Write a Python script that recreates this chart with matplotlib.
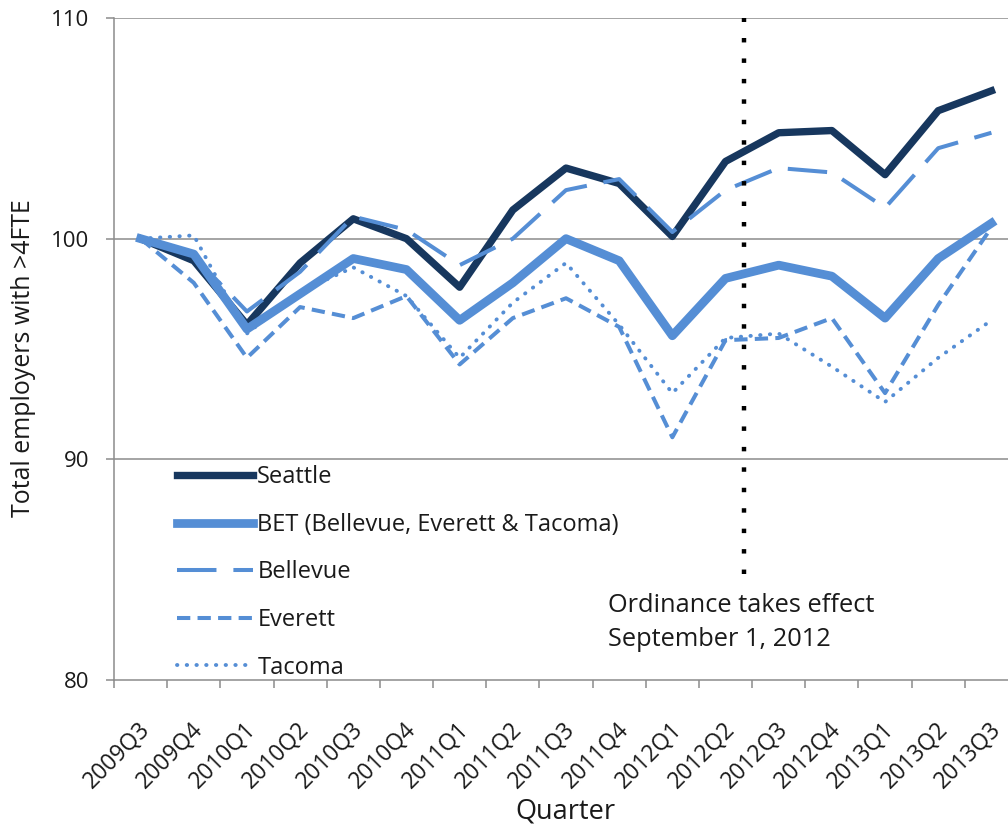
import matplotlib
matplotlib.use("Agg")
import matplotlib.pyplot as plt
import matplotlib.transforms as mtransforms
import numpy as np

quarters = ["2009Q3", "2009Q4", "2010Q1", "2010Q2", "2010Q3", "2010Q4",
            "2011Q1", "2011Q2", "2011Q3", "2011Q4", "2012Q1", "2012Q2",
            "2012Q3", "2012Q4", "2013Q1", "2013Q2", "2013Q3"]
seattle = [100, 99.0, 96.1, 98.9, 100.9, 100.0, 97.8, 101.3, 103.2, 102.5,
           100.1, 103.5, 104.8, 104.9, 102.9, 105.8, 106.7]
bet = [100, 99.3, 95.9, 97.5, 99.1, 98.6, 96.3, 98.0, 100.0, 99.0,
       95.6, 98.2, 98.8, 98.3, 96.4, 99.1, 100.7]
bellevue = [100, 99.2, 96.7, 98.5, 101.0, 100.4, 98.8, 100.0, 102.2, 102.7,
            100.3, 102.2, 103.2, 103.0, 101.4, 104.1, 104.8]
everett = [100, 98.0, 94.6, 96.9, 96.4, 97.4, 94.3, 96.4, 97.3, 96.0,
           91.0, 95.4, 95.5, 96.4, 93.0, 97.0, 100.5]
tacoma = [100, 100.15, 95.7, 97.6, 98.7, 97.4, 94.6, 97.1, 98.9, 96.1,
          93.0, 95.5, 95.7, 94.2, 92.6, 94.6, 96.3]
ordinance_pos = 11.35  # Sept 1, 2012 sits between 2012Q2 and 2012Q3

C_DARK = "#17375E"
C_LIGHT = "#558ED5"
C_GRID = "#8C8C8C"
C_TEXT = "#1A1A1A"
FONT = "Open Sans"

fig = plt.figure(figsize=(10.08, 8.24), dpi=100)
ax = fig.add_axes([114 / 1008, 144 / 824, 904 / 1008, 662 / 824])

x = np.arange(len(quarters))
ax.plot(x, seattle, color=C_DARK, lw=5.3, label="Seattle")
ax.plot(x, bet, color=C_LIGHT, lw=6.3, label="BET (Bellevue, Everett & Tacoma)")
ax.plot(x, bellevue, color=C_LIGHT, lw=2.9, dashes=(9.8, 4.2), label="Bellevue")
ax.plot(x, everett, color=C_LIGHT, lw=2.9, dashes=(3.3, 1.8), label="Everett")
ax.plot(x, tacoma, color=C_LIGHT, lw=2.8, dashes=(0.1, 2.4),
        dash_capstyle="round", label="Tacoma")

# ordinance marker
ax.plot([ordinance_pos, ordinance_pos], [84.8, 110], color="black", lw=3.2,
        dashes=(1.0, 3.6), zorder=5)
ax.text(8.79, 82.6, "Ordinance takes effect\nSeptember 1, 2012", fontsize=18.3,
        family=FONT, color=C_TEXT, va="center", ha="left", linespacing=1.45)

ax.set_xlim(-0.5, 16.5)
ax.set_ylim(80, 110)
ax.set_yticks([80, 90, 100, 110])
for v in [90, 100, 110]:
    ax.axhline(v, color=C_GRID, lw=1.1, zorder=0)

ax.set_xticks(x)
ax.set_xticks(np.arange(-0.5, 16.6, 1), minor=True)
ax.tick_params(axis="x", which="major", length=0, pad=33)
ax.tick_params(axis="x", which="minor", length=5.5, color=C_GRID, width=1.1)
ax.tick_params(axis="y", length=5.8, color=C_GRID, width=1.1, labelsize=16,
               pad=12, labelcolor=C_TEXT)
ax.set_xticklabels(quarters, rotation=45, ha="right", va="center",
                   rotation_mode="anchor", fontsize=16.5, family=FONT, color=C_TEXT)
shift = mtransforms.ScaledTranslation(0.06, 0, fig.dpi_scale_trans)
for lab in ax.get_xticklabels():
    lab.set_transform(lab.get_transform() + shift)
for lab in ax.get_yticklabels():
    lab.set_family(FONT)

for s in ["top", "right"]:
    ax.spines[s].set_visible(False)
for s in ["left", "bottom"]:
    ax.spines[s].set_color(C_GRID)
    ax.spines[s].set_linewidth(1.1)

ax.set_ylabel("Total employers with >4FTE", fontsize=17.9, family=FONT,
              color=C_TEXT, va="center")
ax.yaxis.set_label_coords(-0.0996, 0.4865)
ax.set_xlabel("Quarter", fontsize=19.5, family=FONT, color=C_TEXT, va="center")
ax.xaxis.set_label_coords(0.499, -0.198)

ax.legend(loc="upper left", bbox_to_anchor=(0.0697, 0.3245), frameon=False,
          borderpad=0, borderaxespad=0, handlelength=3.2, handletextpad=0.2,
          labelspacing=1.0, prop={"family": FONT, "size": 17},
          labelcolor=C_TEXT)

fig.savefig("out.png", dpi=100)
